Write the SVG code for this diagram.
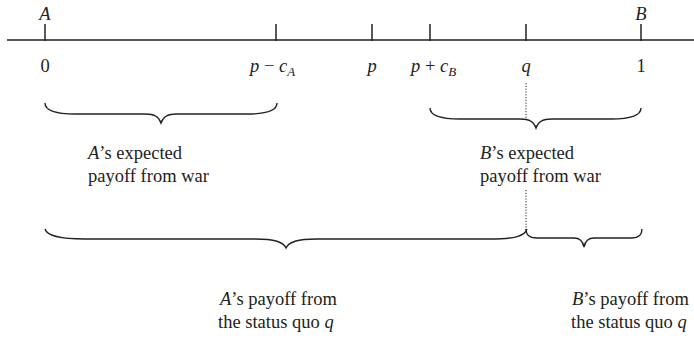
<svg xmlns="http://www.w3.org/2000/svg" width="694" height="341" viewBox="0 0 694 341">
<style>
text{font-family:"Liberation Serif","Times New Roman",serif;font-size:18.5px;fill:#222}
.i{font-style:italic}
.sub{font-style:italic;font-size:13px}
.ax{stroke:#222;stroke-width:1.5;fill:none}
.br{stroke:#222;stroke-width:1.4;fill:none}
.dot{stroke:#222;stroke-width:1;stroke-dasharray:1.2 1.6;fill:none}
</style>
<rect width="694" height="341" fill="#fff"/>
<g id="axis">
<line class="ax" x1="7" y1="40" x2="694" y2="40"/>
<line class="ax" x1="45" y1="24" x2="45" y2="41"/>
<line class="ax" x1="276" y1="24" x2="276" y2="41"/>
<line class="ax" x1="372" y1="24" x2="372" y2="41"/>
<line class="ax" x1="430" y1="24" x2="430" y2="41"/>
<line class="ax" x1="526" y1="24" x2="526" y2="41"/>
<line class="ax" x1="641" y1="24" x2="641" y2="41"/>
</g>
<g id="axis-labels">
<text class="i" x="45" y="20" text-anchor="middle">A</text>
<text class="i" x="641" y="20" text-anchor="middle">B</text>
<text x="45" y="72" text-anchor="middle">0</text>
<text x="250" y="72"><tspan class="i">p</tspan> − <tspan class="i">c</tspan><tspan class="sub" dy="4">A</tspan></text>
<text class="i" x="372" y="72" text-anchor="middle">p</text>
<text x="411" y="72"><tspan class="i">p</tspan> + <tspan class="i">c</tspan><tspan class="sub" dy="4">B</tspan></text>
<text class="i" x="526" y="72" text-anchor="middle">q</text>
<text x="641" y="72" text-anchor="middle">1</text>
</g>
<g id="connectors">
<line class="dot" x1="526" y1="83" x2="526" y2="119"/>
<line class="dot" x1="526" y1="190" x2="526" y2="230"/>
</g>
<g id="brace-a-war">
<path class="br" d="M45,103 C45,110 55,114 75,114 L145,114 C155,114 159,117 161,123 C163,117 167,114 177,114 L247,114 C267,114 277,110 277,103"/>
<text x="88" y="159"><tspan class="i">A</tspan>’s expected</text>
<text x="88" y="182">payoff from war</text>
</g>
<g id="brace-b-war">
<path class="br" d="M430,108 C430,115 440,119 460,119 L520,119 C530,119 534,122 536,128 C538,122 542,119 552,119 L611,119 C631,119 641,115 641,108"/>
<text x="480" y="159"><tspan class="i">B</tspan>’s expected</text>
<text x="480" y="182">payoff from war</text>
</g>
<g id="brace-a-sq">
<path class="br" d="M45,229 C47,236 60,239 85,239 L255,239 C275,239 283,242 286,248 C289,242 297,239 317,239 L490,239 C515,239 525,236 527,229"/>
<text x="220" y="305"><tspan class="i">A</tspan>’s payoff from</text>
<text x="218" y="328">the status quo <tspan class="i">q</tspan></text>
</g>
<g id="brace-b-sq">
<path class="br" d="M526,229 C526,235 529,238 536,238 L574,238 C580,238 583,242 584,247 C585,242 588,238 594,238 L632,238 C639,238 642,235 642,229"/>
<text x="572" y="305"><tspan class="i">B</tspan>’s payoff from</text>
<text x="571" y="328">the status quo <tspan class="i">q</tspan></text>
</g>
</svg>
